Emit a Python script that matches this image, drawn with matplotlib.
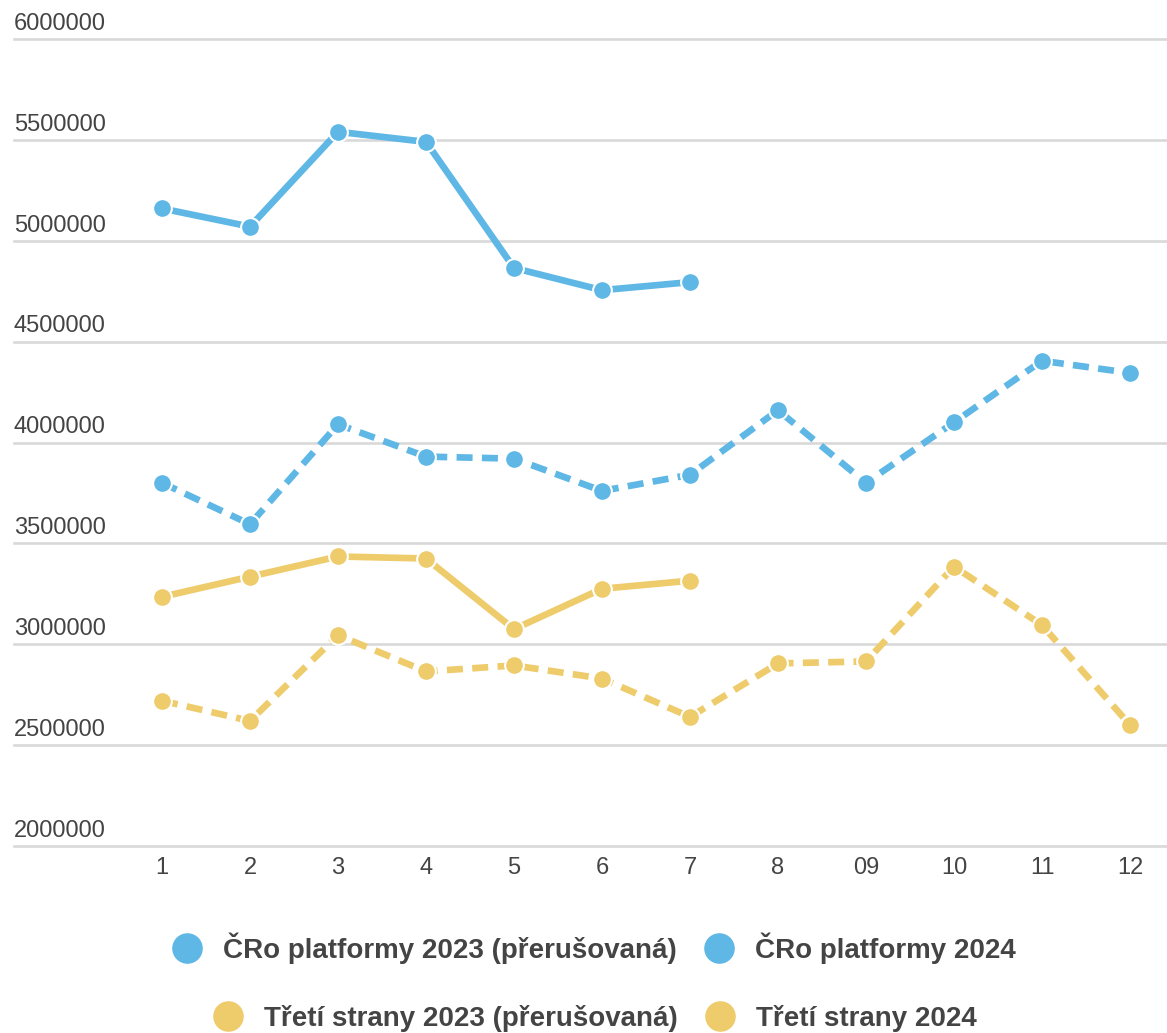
import matplotlib
matplotlib.use("Agg")
import matplotlib.pyplot as plt
from matplotlib.lines import Line2D
from matplotlib.transforms import offset_copy

plt.rcParams['font.family'] = ['Liberation Sans', 'DejaVu Sans']

months = ["1", "2", "3", "4", "5", "6", "7", "8", "09", "10", "11", "12"]
cro_2023 = [3800000, 3595000, 4090000, 3930000, 3920000, 3760000, 3840000,
            4160000, 3800000, 4100000, 4405000, 4345000]
cro_2024 = [5160000, 5070000, 5540000, 5490000, 4865000, 4755000, 4795000]
treti_2023 = [2720000, 2620000, 3045000, 2865000, 2895000, 2830000, 2640000,
              2905000, 2915000, 3385000, 3095000, 2600000]
treti_2024 = [3235000, 3335000, 3435000, 3425000, 3075000, 3275000, 3315000]
y_ticks = [2000000, 2500000, 3000000, 3500000, 4000000, 4500000, 5000000,
           5500000, 6000000]
legend_labels = ["ČRo platformy 2023 (přerušovaná)", "ČRo platformy 2024",
                 "Třetí strany 2023 (přerušovaná)", "Třetí strany 2024"]

BLUE = "#5EB7E5"
YELLOW = "#EECB6B"
TXT = "#444444"
GRID = "#d9d9d9"

W, H = 1167, 1033
fig = plt.figure(figsize=(W / 100, H / 100), dpi=100)
left, right = 14, 1167
top, bottom = 39, 846
ax = fig.add_axes([left / W, 1 - bottom / H, (right - left) / W, (bottom - top) / H])

x = list(range(1, 13))
xs7 = x[:len(cro_2024)]
# x scale: 1 -> 162 px, 12 -> 1130 px
ppu = (1130 - 162) / 11
ax.set_xlim(1 - (162 - left) / ppu, 12 + (right - 1130) / ppu)
ax.set_ylim(2000000, 6000000)

for s in ax.spines.values():
    s.set_visible(False)

ax.set_yticks(y_ticks)
ax.yaxis.grid(True, color=GRID, linewidth=1.9)
for gl in ax.get_ygridlines():
    gl.set_clip_on(False)
ax.set_axisbelow(True)
ax.tick_params(axis='y', length=0, labelleft=False)
ytr = offset_copy(ax.get_yaxis_transform(), fig=fig, x=0, y=3, units='points')
for v in y_ticks:
    ax.text(0, v, str(v), transform=ytr, ha='left', va='bottom',
            fontsize=17, color=TXT)

ax.set_xticks(x)
ax.set_xticklabels(months, fontsize=17, color=TXT)
ax.tick_params(axis='x', length=0, pad=8)

lw = 4.8
dash = (0, (2.4, 1.4))
mk = dict(marker='o', markersize=13.5, markeredgecolor='white', markeredgewidth=1.5)

ax.plot(x, cro_2023, color=BLUE, lw=lw, linestyle=dash, markerfacecolor=BLUE, **mk, zorder=3)
ax.plot(xs7, cro_2024, color=BLUE, lw=lw, markerfacecolor=BLUE, **mk, zorder=3)
ax.plot(x, treti_2023, color=YELLOW, lw=lw, linestyle=dash, markerfacecolor=YELLOW, **mk, zorder=3)
ax.plot(xs7, treti_2024, color=YELLOW, lw=lw, markerfacecolor=YELLOW, **mk, zorder=3)

def handle(c):
    return Line2D([], [], linestyle='none', marker='o', markersize=21,
                  markerfacecolor=c, markeredgecolor=c)

leg_kw = dict(loc='center', ncol=2, frameon=False, handlelength=1.2,
              handletextpad=0.7, columnspacing=0.9,
              prop={'size': 20, 'weight': 'bold'}, labelcolor=TXT)
l1 = fig.legend([handle(BLUE), handle(BLUE)], legend_labels[:2],
                bbox_to_anchor=(593 / W, 1 - 948 / H), **leg_kw)
l2 = fig.legend([handle(YELLOW), handle(YELLOW)], legend_labels[2:],
                bbox_to_anchor=(594 / W, 1 - 1018 / H), **leg_kw)

fig.savefig("out.png", dpi=100)
